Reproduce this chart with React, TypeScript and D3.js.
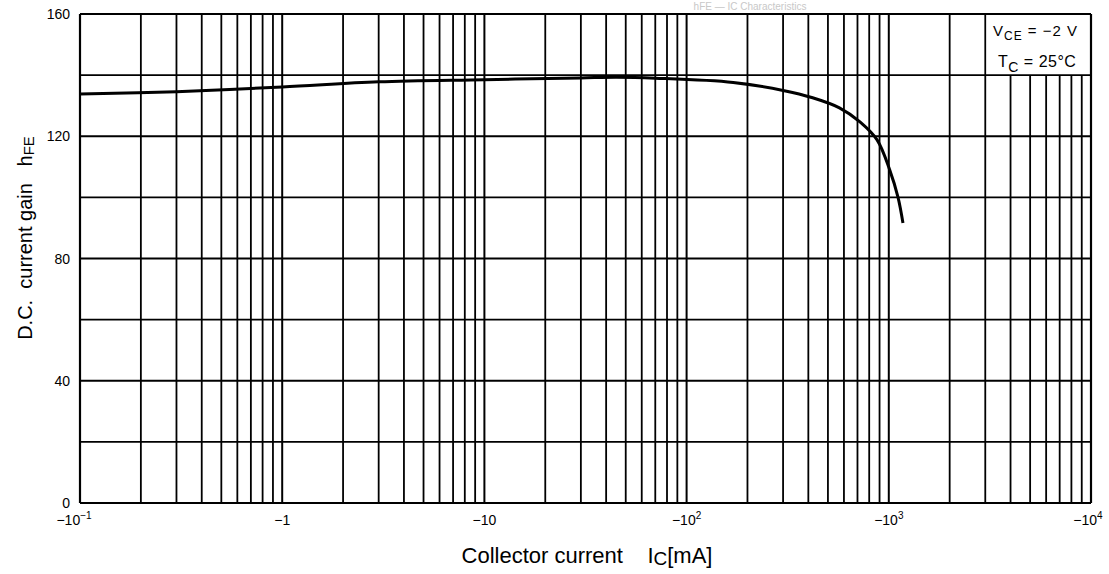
import React from "react";
import * as d3 from "d3";

const currents = [0.1, 0.3, 1, 3, 10, 30, 45, 70, 170, 300, 420, 570, 720, 875, 1010, 1110, 1175];
const gains = [133.8, 134.6, 136.1, 137.8, 138.5, 139.1, 139.3, 139.0, 137.6, 135.0, 132.6, 129.3, 124.7, 118.8, 109, 100.1, 91.6];

const yTicks = [0, 40, 80, 120, 160];
const yGrid = [20, 40, 60, 80, 100, 120, 140];
const xMajor = [0.1, 1, 10, 100, 1000, 10000];
const xLabelBase = ["−10", "−1", "−10", "−10", "−10", "−10"];
const xLabelExp = ["−1", "", "", "2", "3", "4"];

const W = 1109;
const H = 574;
const L = 80, R = 1091, T = 14, B = 503;

export default function App() {
  const x = d3.scaleLog().domain([0.1, 10000]).range([L, R]);
  const y = d3.scaleLinear().domain([0, 160]).range([B, T]);

  const minor: number[] = [];
  for (let d = -1; d < 4; d++) {
    for (let k = 2; k <= 9; k++) minor.push(k * Math.pow(10, d));
  }

  const pts: [number, number][] = currents.map((c, i) => [x(c), y(gains[i])]);
  const line = d3.line().curve(d3.curveCatmullRom.alpha(0.5))(pts) || "";

  const font = "'Liberation Sans', Arial, sans-serif";

  return (
    <div style={{ position: "absolute", left: 0, top: 0 }}>
      <svg width={W} height={H} style={{ display: "block", background: "#fff" }} fontFamily={font}>
        <rect x={0} y={0} width={W} height={H} fill="#fff" />
        <text x={750} y={10} textAnchor="middle" fontSize={10} fill="#c8c8c8">hFE — IC Characteristics</text>
        {/* vertical grid */}
        {minor.map((v, i) => (
          <line key={"m" + i} x1={x(v)} x2={x(v)} y1={T} y2={B} stroke="#000" strokeWidth={1.8} />
        ))}
        {xMajor.map((v, i) => (
          <line key={"M" + i} x1={x(v)} x2={x(v)} y1={T} y2={B} stroke="#000" strokeWidth={2} />
        ))}
        {/* legend box covers grid */}
        <rect x={x(3000) + 1.5} y={T} width={R - x(3000) - 1.5} height={y(140) - T} fill="#fff" />
        {/* horizontal grid */}
        {yGrid.map((v) => (
          <line key={"h" + v} x1={L} x2={R} y1={y(v)} y2={y(v)} stroke="#000" strokeWidth={1.8} />
        ))}
        {/* frame */}
        <line x1={L} x2={R} y1={T} y2={T} stroke="#000" strokeWidth={2.2} />
        <line x1={L} x2={R} y1={B} y2={B} stroke="#000" strokeWidth={2.2} />
        <line x1={L} x2={L} y1={T} y2={B} stroke="#000" strokeWidth={2.2} />
        <line x1={R} x2={R} y1={T} y2={B} stroke="#000" strokeWidth={2.2} />
        {/* curve */}
        <path d={line} fill="none" stroke="#000" strokeWidth={3} />
        {/* y tick labels */}
        {yTicks.map((v) => (
          <text key={"yt" + v} x={70} y={y(v) + 5} textAnchor="end" fontSize={14}>{v}</text>
        ))}
        {/* x tick labels */}
        {xMajor.map((v, i) => (
          <text key={"xt" + i} x={x(v) - (i === 0 ? 6 : i === 5 ? 3 : 0)} y={525} textAnchor="middle" fontSize={14}>
            {xLabelBase[i]}
            {xLabelExp[i] ? <tspan dy={-6} fontSize={10}>{xLabelExp[i]}</tspan> : null}
          </text>
        ))}
        {/* legend */}
        <text x={993} y={36} fontSize={15} letterSpacing={1}>
          V<tspan dy={4} fontSize={12}>CE</tspan><tspan dy={-4}> = −2 V</tspan>
        </text>
        <text x={998} y={67} fontSize={16} letterSpacing={0.5}>
          T<tspan dy={5} fontSize={14}>C</tspan><tspan dy={-5}> = 25°C</tspan>
        </text>
        {/* axis titles */}
        <text x={587} y={563} textAnchor="middle" fontSize={22}>
          Collector current{"\u00a0\u00a0\u00a0\u00a0"}I<tspan dy={2} fontSize={19}>C</tspan><tspan dy={-2}>[mA]</tspan>
        </text>
        <text transform="translate(32,238) rotate(-90)" textAnchor="middle" fontSize={20}>
          D.C.{"\u00a0\u00a0"}current gain{"\u00a0\u00a0\u00a0"}h<tspan dy={2} fontSize={15}>FE</tspan>
        </text>
      </svg>
    </div>
  );
}
